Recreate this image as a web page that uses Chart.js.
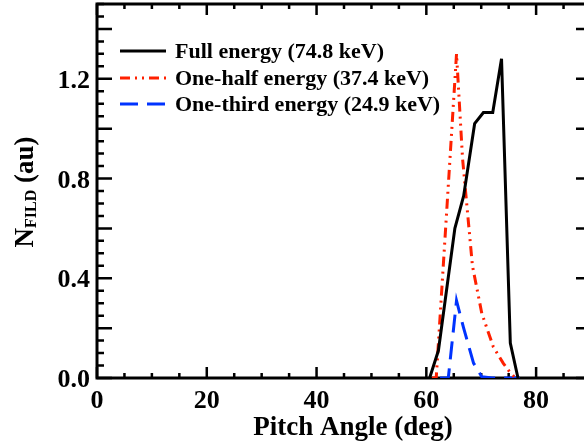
<!DOCTYPE html>
<html lang="en">
<head>
    <meta charset="UTF-8">
    <title>Pitch Angle Distribution</title>
    <script src="https://cdn.jsdelivr.net/npm/chart.js"></script>
    <style>
        html, body { margin: 0; padding: 0; overflow: hidden; background: #fff; }
        .chart-container { width: 584px; height: 446px; overflow: hidden; }
    </style>
</head>
<body>
    <div class="chart-container">
        <canvas id="pitchChart" width="600" height="446"></canvas>
    </div>

    <script>
        // Data
        const fullX = [60.6, 62.2, 65.2, 66.8, 68.8, 70.4, 72.1, 73.7, 75.3, 76.7];
        const fullY = [0, 0.11, 0.60, 0.73, 1.02, 1.065, 1.065, 1.28, 0.14, 0];

        const halfX = [61.0, 61.8, 63.4, 65.5, 66.6, 68.4, 70.1, 72.2, 74.0, 75.0, 76.2];
        const halfY = [0, 0, 0.56, 1.30, 0.88, 0.45, 0.26, 0.125, 0.06, 0.03, 0];

        const thirdX = [62.5, 64.0, 65.5, 66.8, 68.6, 70.1, 72.0, 77.0];
        const thirdY = [0, 0, 0.31, 0.20, 0.06, 0.005, 0, 0];

        const seriesLabels = ['Full energy (74.8 keV)', 'One-half energy (37.4 keV)', 'One-third energy (24.9 keV)'];

        const xTickLabels = [0, 20, 40, 60, 80];
        const yTickLabels = [0.0, 0.4, 0.8, 1.2];

        const serif = '"Liberation Serif", "DejaVu Serif", serif';

        function pts(xs, ys) {
            return xs.map((x, i) => ({ x: x, y: ys[i] }));
        }

        // Axes box, inward ticks, labels and titles (IDL style)
        const idlAxes = {
            id: 'idlAxes',
            beforeDatasetsDraw(chart) {
                const ctx = chart.ctx;
                const area = chart.chartArea;
                const xs = chart.scales.x;
                const ys = chart.scales.y;
                ctx.save();
                ctx.strokeStyle = '#000';
                ctx.fillStyle = '#000';
                ctx.lineWidth = 3;
                ctx.strokeRect(area.left, area.top, area.right - area.left, area.bottom - area.top);

                // x ticks: minor every 5, major every 20
                ctx.lineWidth = 2.5;
                for (let v = 0; v <= 90; v += 5) {
                    const px = xs.getPixelForValue(v);
                    const len = v % 20 === 0 ? 11 : 5;
                    ctx.beginPath();
                    ctx.moveTo(px, area.bottom);
                    ctx.lineTo(px, area.bottom - len);
                    ctx.moveTo(px, area.top);
                    ctx.lineTo(px, area.top + len);
                    ctx.stroke();
                }
                // y ticks: minor every 0.05, major every 0.2
                for (let i = 0; i <= 30; i++) {
                    const v = i * 0.05;
                    const py = ys.getPixelForValue(v);
                    const len = i % 4 === 0 ? 15 : 7;
                    ctx.beginPath();
                    ctx.moveTo(area.left, py);
                    ctx.lineTo(area.left + len, py);
                    ctx.moveTo(area.right, py);
                    ctx.lineTo(area.right - len, py);
                    ctx.stroke();
                }

                // tick labels
                ctx.font = 'bold 26px ' + serif;
                ctx.textAlign = 'center';
                ctx.textBaseline = 'alphabetic';
                xTickLabels.forEach(v => {
                    ctx.fillText(String(v), xs.getPixelForValue(v), 408);
                });
                ctx.textAlign = 'right';
                yTickLabels.forEach(v => {
                    ctx.fillText(v.toFixed(1), 90, ys.getPixelForValue(v) + 9);
                });

                // x title
                ctx.font = 'bold 27px ' + serif;
                ctx.textAlign = 'center';
                ctx.fillText('Pitch Angle (deg)', 353, 435);

                // y title with subscript
                ctx.translate(33, 192);
                ctx.rotate(-Math.PI / 2);
                const big = 'bold 27px ' + serif;
                const small = 'bold 16px ' + serif;
                ctx.font = big;
                const wN = ctx.measureText('N').width;
                const wAu = ctx.measureText(' (au)').width;
                ctx.font = small;
                const wSub = ctx.measureText('FILD').width;
                let x0 = -(wN + wSub + wAu) / 2;
                ctx.textAlign = 'left';
                ctx.font = big;
                ctx.fillText('N', x0, 0);
                ctx.font = small;
                ctx.fillText('FILD', x0 + wN, 3);
                ctx.font = big;
                ctx.fillText(' (au)', x0 + wN + wSub, 0);
                ctx.restore();
            },
            afterDraw(chart) {
                // legend, top left inside the plot
                const ctx = chart.ctx;
                ctx.save();
                ctx.font = 'bold 22px ' + serif;
                ctx.textAlign = 'left';
                ctx.textBaseline = 'alphabetic';
                const rows = [51, 78, 104];
                chart.data.datasets.forEach((ds, i) => {
                    const y = rows[i];
                    ctx.strokeStyle = ds.borderColor;
                    ctx.lineWidth = ds.borderWidth;
                    ctx.setLineDash(ds.borderDash || []);
                    ctx.beginPath();
                    ctx.moveTo(120, y);
                    ctx.lineTo(166, y);
                    ctx.stroke();
                    ctx.setLineDash([]);
                    ctx.fillStyle = '#000';
                    ctx.fillText(ds.label, 175, y + 7);
                });
                ctx.restore();
            }
        };

        const ctx = document.getElementById('pitchChart').getContext('2d');
        new Chart(ctx, {
            type: 'line',
            data: {
                datasets: [
                    {
                        label: seriesLabels[0],
                        data: pts(fullX, fullY),
                        borderColor: '#000000',
                        borderWidth: 3,
                        pointRadius: 0,
                        tension: 0
                    },
                    {
                        label: seriesLabels[1],
                        data: pts(halfX, halfY),
                        borderColor: '#ff2000',
                        borderWidth: 3,
                        borderDash: [10, 5, 2, 5, 2, 5],
                        pointRadius: 0,
                        tension: 0
                    },
                    {
                        label: seriesLabels[2],
                        data: pts(thirdX, thirdY),
                        borderColor: '#0033ff',
                        borderWidth: 3,
                        borderDash: [18, 9],
                        pointRadius: 0,
                        tension: 0
                    }
                ]
            },
            options: {
                responsive: false,
                animation: false,
                devicePixelRatio: 1,
                layout: {
                    padding: { left: 97, right: 9, top: 4, bottom: 68 }
                },
                plugins: {
                    legend: { display: false },
                    tooltip: { enabled: false }
                },
                scales: {
                    x: { type: 'linear', min: 0, max: 90, display: false },
                    y: { type: 'linear', min: 0, max: 1.5, display: false }
                }
            },
            plugins: [idlAxes]
        });
    </script>
</body>
</html>
